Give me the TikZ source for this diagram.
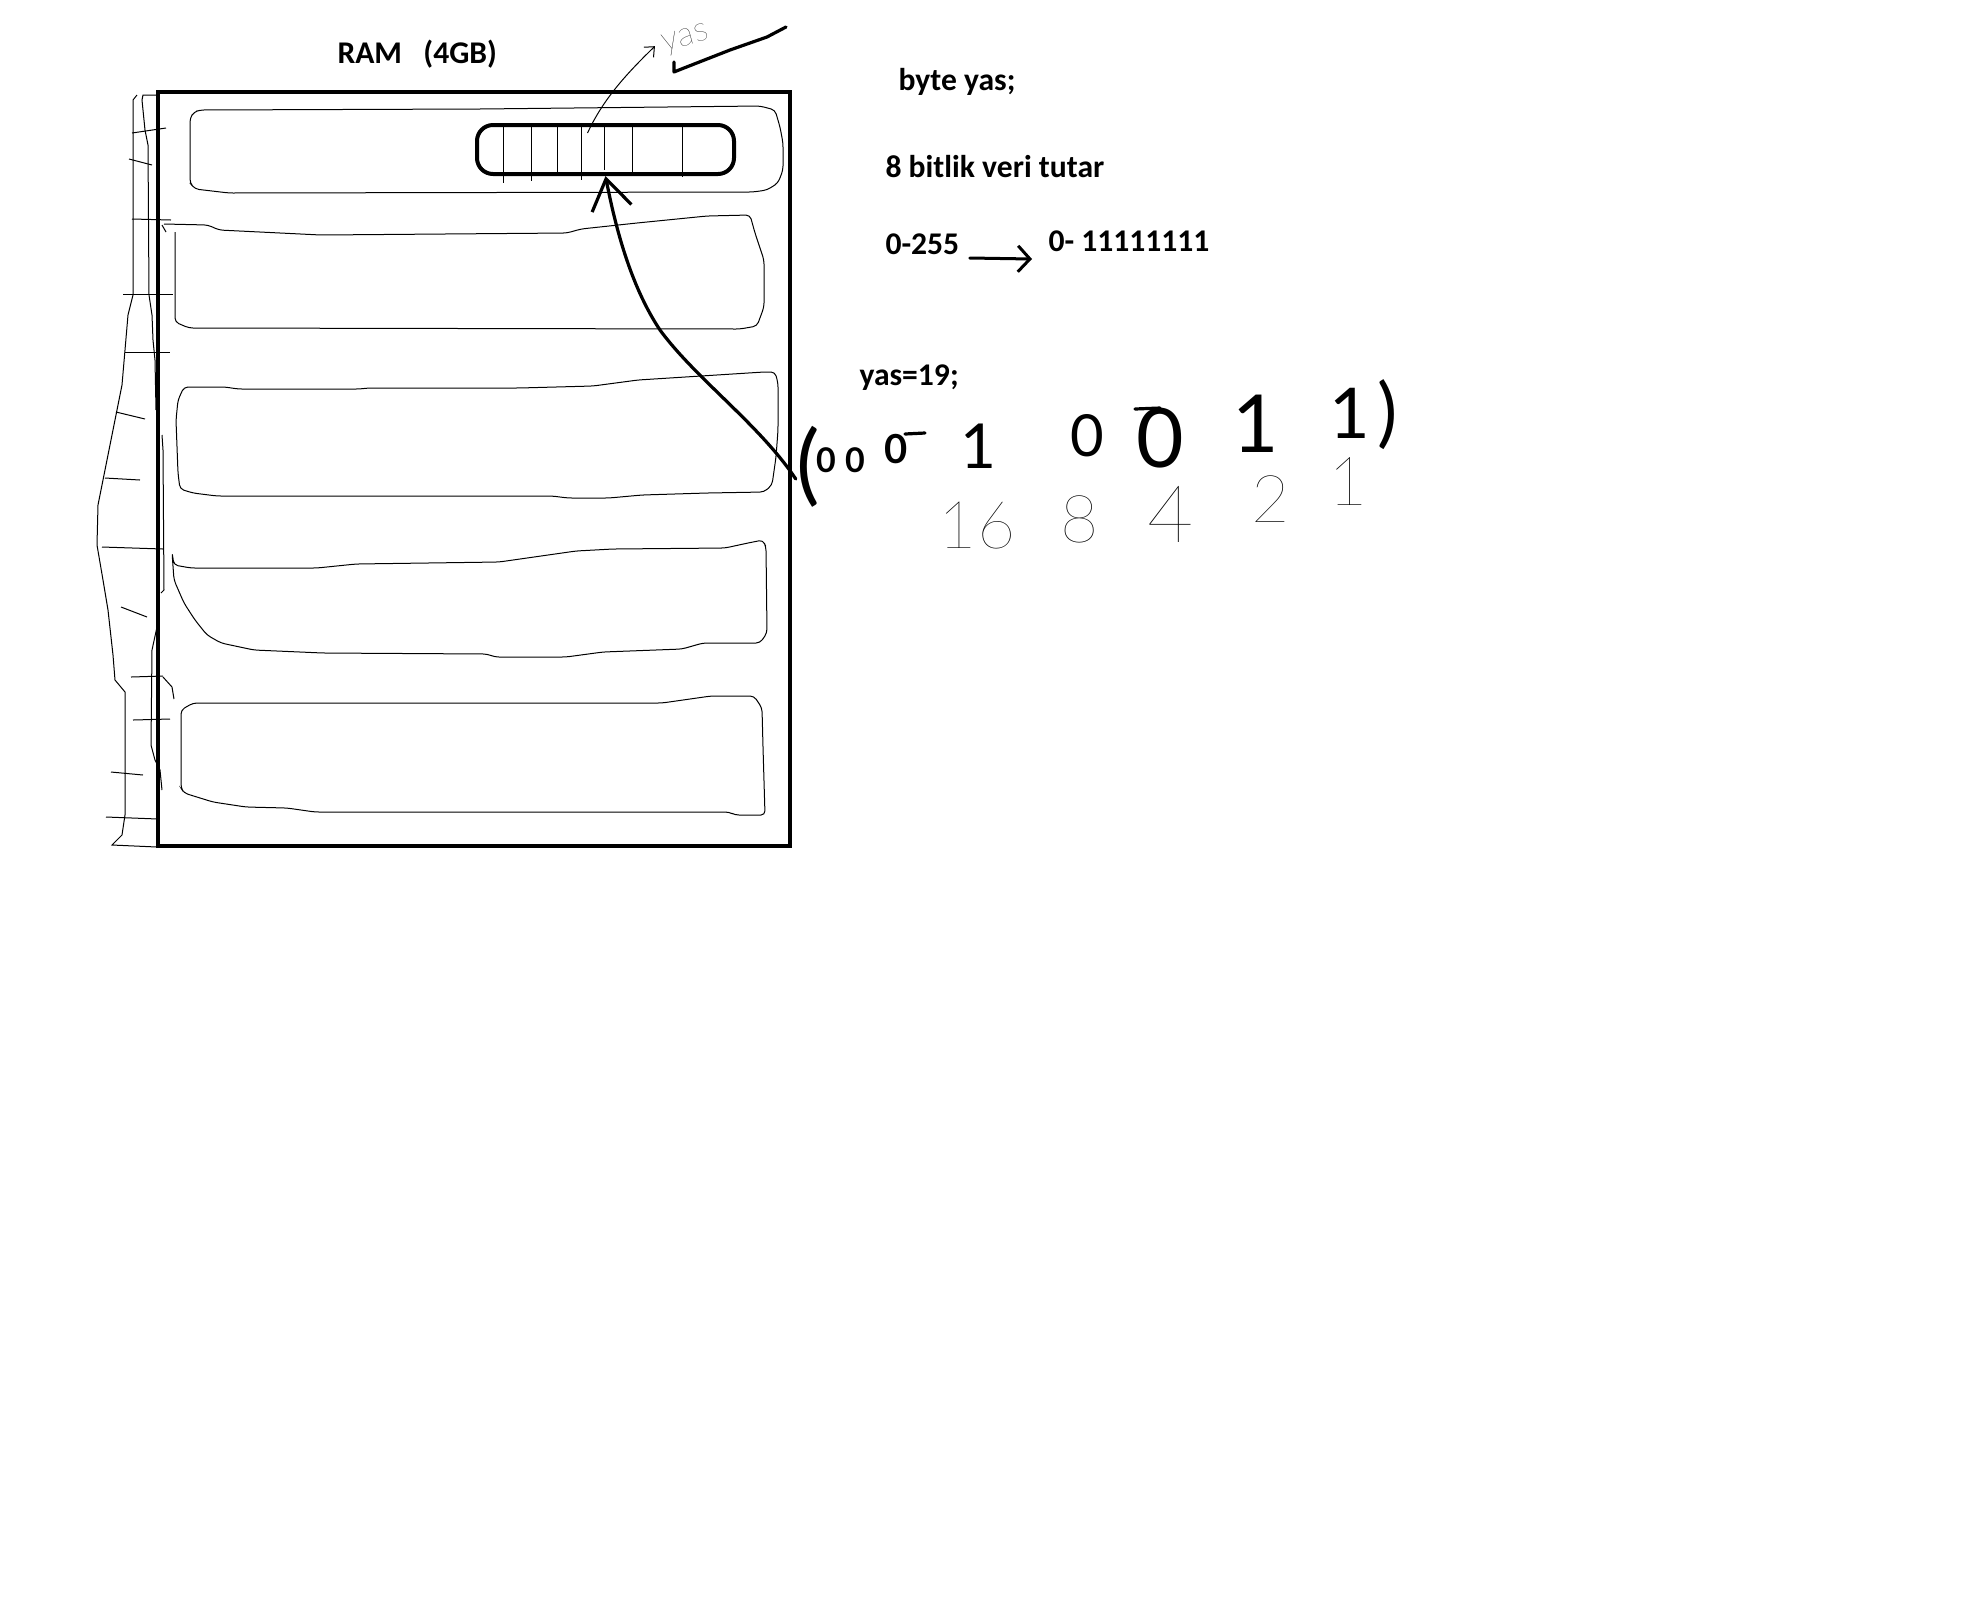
\documentclass[tikz,border=0pt]{standalone}
\usepackage{fontspec}
\setmainfont{Carlito}
\newfontfamily\handfont{Lato}
\IfFontExistsTF{Lato Hairline}{\newfontfamily\hairfont{Lato Hairline}}{\newfontfamily\hairfont{Lato}}
\usetikzlibrary{arrows.meta}

\tikzset{every picture/.style={line width=0.5pt}}
\tikzset{
  lbl/.style={font=\bfseries\fontsize{15.8}{19}\selectfont, anchor=base west, inner sep=0pt},
  penbit/.style={font=\handfont\fontsize{#1}{#1}\selectfont, inner sep=0pt},
  penbitsmall/.style={font=\handfont\bfseries\fontsize{#1}{#1}\selectfont, inner sep=0pt},
  hairbit/.style={font=\hairfont\fontsize{#1}{#1}\selectfont, inner sep=0pt},
  cellbox/.style={draw, line width=2pt, rounded corners=8pt, minimum width=128.5pt, minimum height=24.5pt, inner sep=0pt},
  bigarrow/.style={line width=1.6pt, line cap=round, -{Straight Barb[length=15pt,width=20pt]}},
  penarrow/.style={line width=1.5pt, line cap=round, -{Straight Barb[length=6pt,width=13pt]}},
  thinarrow/.style={line width=0.5pt, -{Straight Barb[length=4pt,width=7pt]}},
  penline/.style={line width=1.6pt, line cap=round, line join=round}
}

\begin{document}
\begin{tikzpicture}[x=0.5pt,y=0.5pt,yscale=-1,xscale=1]
        \useasboundingbox (0,0) rectangle (1986,1603);

        %Shape: Rectangle (RAM)
        \draw [line width=2pt] (158,92) rectangle (790,846);

        %Shape: Polygon (row 1)
        \draw [rounded corners=2pt] (190,183) -- (190,118) -- (194,112) -- (200,110) -- (480,109) -- (760,106) -- (775,110) -- (780,127) -- (783,143) -- (783,170) -- (778,183) -- (767,190) -- (753,192) -- (229,193) -- (195,189) -- cycle ;
        %Shape: Polygon (row 2)
        \draw [rounded corners=2pt] (164,224) -- (208,225) -- (219,230) -- (321,235) -- (567,233) -- (581,229) -- (637,223) -- (707,216) -- (750,215) -- (755,233) -- (764,260) -- (764,307) -- (757,326) -- (740,329) -- (189,328) -- (175,322) -- (175,232) ;
        %Shape: Polygon (row 3)
        \draw [rounded corners=2pt] (184,387) -- (225,387) -- (238,389) -- (360,389) -- (368,388) -- (519,388) -- (593,386) -- (638,380) -- (764,372) -- (775,372) -- (778,383) -- (778,430) -- (776,457) -- (772,485) -- (764,492) -- (707,493) -- (642,495) -- (609,498) -- (568,498) -- (552,496) -- (217,496) -- (193,493) -- (180,489) -- (178,473) -- (176,420) -- (178,400) -- cycle ;
        %Shape: Polygon (row 4)
        \draw [rounded corners=2pt] (172,552) -- (174,565) -- (191,568) -- (317,568) -- (356,564) -- (499,562) -- (576,551) -- (613,549) -- (725,548) -- (748,543) -- (763,540) -- (766,547) -- (767,633) -- (760,643) -- (703,643) -- (682,649) -- (603,652) -- (566,657) -- (495,657) -- (487,654) -- (323,653) -- (254,650) -- (221,643) -- (207,635) -- (195,620) -- (184,603) -- (174,580) -- cycle ;
        %Shape: Polygon (row 5)
        \draw [rounded corners=2pt] (181,710) -- (193,703) -- (662,703) -- (711,696) -- (754,696) -- (762,708) -- (763,747) -- (765,815) -- (735,815) -- (729,812) -- (315,812) -- (287,808) -- (246,807) -- (213,802) -- (184,793) -- (181,788) -- cycle ;

        %Shape: Scribble (left side)
        \draw (137,95) -- (133,100) -- (133,295) -- (128,315) -- (125,350) -- (122,385) -- (115,420) -- (105,470) -- (98,505) -- (97,545) -- (103,580) -- (108,610) -- (113,655) -- (115,680) -- (125,692) -- (125,815) -- (122,835) -- (112,845) -- (157,847) ;
        \draw (158,95) -- (143,95) -- (142,100) -- (145,130) -- (148,145) -- (149,295) -- (152,315) -- (153,340) -- (155,360) -- (156,410) ;
        \draw (162,435) -- (163,450) -- (164,590) -- (161,593) ;
        \draw (157,627) -- (152,650) -- (151,745) -- (155,760) -- (160,770) -- (162,790) ;
        \draw (163,677) -- (172,687) -- (174,699) ;
        \draw (162,225) -- (166,232) ;
        \foreach \xa/\ya/\xb/\yb in {132/133/166/128, 129/159/152/165, 132/219/171/220, 123/294/173/294, 125/352/170/352, 116/412/145/419, 105/478/140/480, 102/547/163/549, 121/607/147/617, 131/677/163/676, 133/720/170/719, 111/772/143/775, 106/817/158/819}
            \draw (\xa,\ya) -- (\xb,\yb) ;

        % Byte cell
        \node [cellbox] (cell) at (605.5,149.5) {};
        \foreach \x/\b in {503/183, 531/181, 557/172, 581/180, 604/170, 632/175, 682/177}
            \draw (\x,123) -- (\x,\b) ;

        % Text Node
        \node [lbl] (ram) at (337,63) {RAM\ \ \ (4GB)};
        % Text Node
        \node [hairbit=17, rotate=15] (yaslbl) at (686,40) {yas};
        \draw [thinarrow] ([xshift=-9pt,yshift=5pt]cell.north) .. controls (602,102) and (622,78) .. ([xshift=-4pt]yaslbl.west) ;
        %Shape: Pen stroke
        \draw [penline] (674,62) -- (674,72) -- (684,68) -- (730,50) -- (767,37) -- (786,27) ;

        % Text Node
        \node [lbl] (decl) at (898,90) {byte yas;};
        % Text Node
        \node [lbl] (bits8) at (885,177) {8 bitlik veri tutar};
        % Text Node
        \node [lbl] (r255) at (885,254) {0-255};
        % Text Node
        \node [lbl] (rbin) at (1048,251) {0- 11111111};
        \draw [penarrow] ([xshift=5pt,yshift=2pt]r255.base east) -- ([xshift=-8pt,yshift=4pt]rbin.base west) ;
        % Text Node
        \node [lbl] (assign) at (859,385) {yas=19;};

        % Binary digits of 19
        \node [penbit=44] (lpar) at (808,467) {(};
        \node [penbitsmall=17] (b7) at (826,460) {0};
        \node [penbitsmall=17] (b6) at (855,460) {0};
        \node [penbitsmall=20] (b5) at (896,449) {0};
        \node [penbit=31] (b4) at (978,446) {1};
        \node [penbit=29] (b3) at (1087,436) {0};
        \node [penbit=41] (b2) at (1160,438) {0};
        \node [penbit=40] (b1) at (1256,424) {1};
        \node [penbit=35] (b0) at (1350,413) {1};
        \node [penbit=38] (rpar) at (1388,415) {)};
        \draw [penline] (905,434) -- (925,433) ;
        \draw [penline] (1135,409) -- (1160,408) ;

        % Place values
        \node [hairbit=33] (w16) at (977,526) {16};
        \node [hairbit=33] (w8) at (1080,519) {8};
        \node [hairbit=40] (w4) at (1171,514) {4};
        \node [hairbit=33] (w2) at (1271,499) {2};
        \node [hairbit=34] (w1) at (1348,482) {1};

        % Arrow from the value to the byte cell
        \draw [bigarrow] ([yshift=6pt]lpar.west) .. controls (760,425) and (695,378) .. (660,330) .. controls (630,285) and (615,225) .. (cell.south) ;

    \end{tikzpicture}
\end{document}
